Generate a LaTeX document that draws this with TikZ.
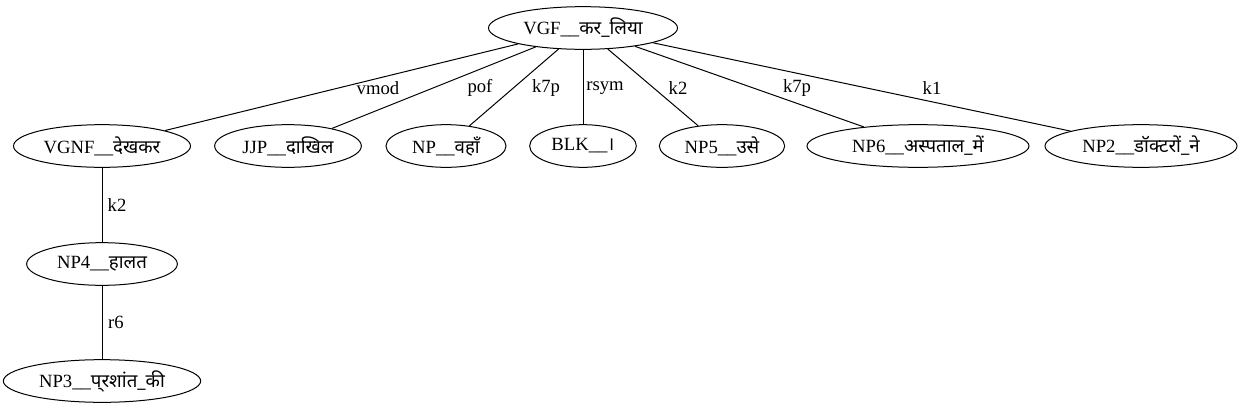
\documentclass[tikz,border=0pt]{standalone}
\usepackage{fontspec}
\setmainfont{Liberation Serif}
\newfontfamily\devfont[Script=Devanagari]{Noto Sans}
\newcommand{\hin}[1]{{\devfont #1}}
\usetikzlibrary{shapes.geometric}
\tikzset{
  depnode/.style={draw, ellipse, inner sep=0pt, minimum height=32pt, line width=.75pt, font=\fontsize{14}{16}\selectfont},
  deparc/.style={line width=.75pt},
  deprel/.style={inner sep=0pt, font=\fontsize{14}{16}\selectfont}
}

\begin{document}
\begin{tikzpicture}[x=.75pt,y=-.75pt]
  \useasboundingbox (0,0) rectangle (1240,411);
  \node[depnode, minimum width=141.75pt] (vgf) at (583,28) {VGF\_\_\hin{कर\_लिया}};
  \node[depnode, minimum width=132.75pt] (vgnf) at (102,146) {VGNF\_\_\hin{देखकर}};
  \node[depnode, minimum width=110pt] (jjp) at (288,146) {JJP\_\_\hin{दाखिल}};
  \node[depnode, minimum width=90pt] (np) at (446,146) {NP\_\_\hin{वहाँ}};
  \node[depnode, minimum width=80pt] (blk) at (583,146) {BLK\_\_\hin{।}};
  \node[depnode, minimum width=94pt] (np5) at (722,146) {NP5\_\_\hin{उसे}};
  \node[depnode, minimum width=166.5pt] (np6) at (918,146) {NP6\_\_\hin{अस्पताल\_में}};
  \node[depnode, minimum width=144pt] (np2) at (1141,146) {NP2\_\_\hin{डॉक्टरों\_ने}};
  \node[depnode, minimum width=113pt] (np4) at (102,264) {NP4\_\_\hin{हालत}};
  \node[depnode, minimum width=148pt] (np3) at (102,381) {NP3\_\_\hin{प्\kern0pt रशांत\_की}};

  \draw[deparc] (vgf) -- (vgnf) node[deprel] at (378,88) {vmod};
  \draw[deparc] (vgf) -- (jjp) node[deprel] at (480,88) {pof};
  \draw[deparc] (vgf) -- (np) node[deprel] at (546,88) {k7p};
  \draw[deparc] (vgf) -- (blk) node[deprel] at (605,88) {rsym};
  \draw[deparc] (vgf) -- (np5) node[deprel] at (678,88) {k2};
  \draw[deparc] (vgf) -- (np6) node[deprel] at (797,88) {k7p};
  \draw[deparc] (vgf) -- (np2) node[deprel] at (932,88) {k1};
  \draw[deparc] (vgnf) -- (np4) node[deprel] at (117,205) {k2};
  \draw[deparc] (np4) -- (np3) node[deprel] at (116,322) {r6};
\end{tikzpicture}
\end{document}
